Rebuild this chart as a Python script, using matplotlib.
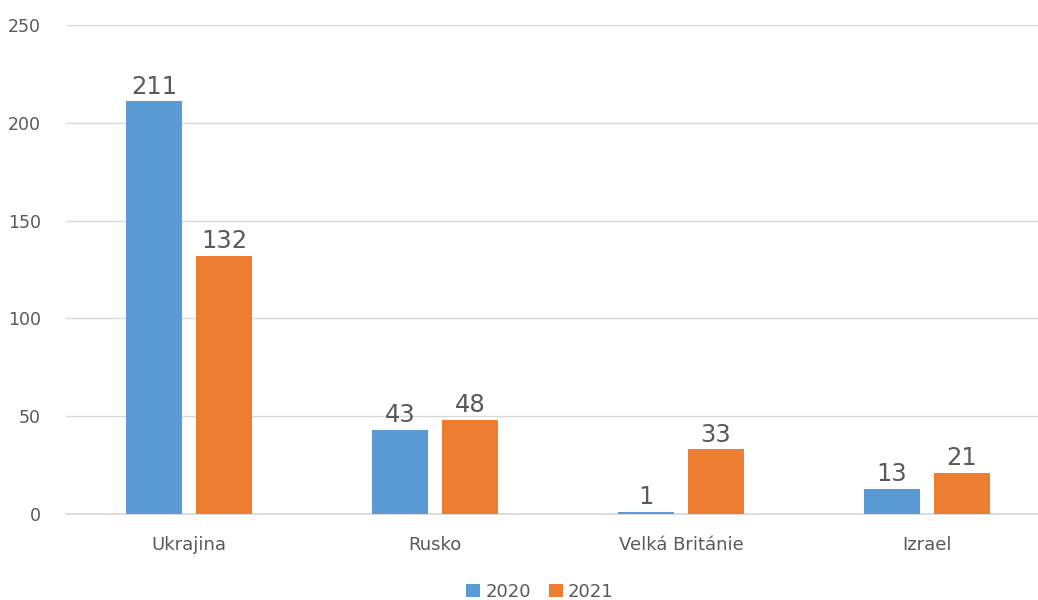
import matplotlib
matplotlib.use("Agg")
import matplotlib.pyplot as plt
import numpy as np

# data
countries = ["Ukrajina", "Rusko", "Velká Británie", "Izrael"]
years = ["2020", "2021"]
values_2020 = [211, 43, 1, 13]
values_2021 = [132, 48, 33, 21]

colors = ["#5B9BD5", "#ED7D31"]
text_grey = "#595959"

plt.rcParams['font.family'] = ['DejaVu Sans']

fig = plt.figure(figsize=(10.38, 6), dpi=100)
# plot area runs past the right edge, the original was cropped there
ax = fig.add_axes([66 / 1038, 86 / 600, (1038 - 66) / 1038, 489 / 600])

x = np.arange(len(countries))
w = 0.227
off = 0.142

for i, (vals, c, lab) in enumerate(zip([values_2020, values_2021], colors, years)):
    pos = x + (-off if i == 0 else off)
    bars = ax.bar(pos, vals, width=w, color=c, label=lab, zorder=3)
    for b, v in zip(bars, vals):
        ax.annotate(str(v), (b.get_x() + b.get_width() / 2, v),
                    xytext=(0, 2), textcoords="offset points",
                    ha="center", va="bottom", fontsize=17.5, color=text_grey)

ax.set_ylim(0, 250)
ax.set_xlim(-0.5, (1038 - 189) / 246)
ax.set_yticks(range(0, 251, 50))
ax.set_xticks(x)
ax.set_xticklabels(countries)
ax.grid(axis="y", color="#D9D9D9", linewidth=1, zorder=0)
ax.axhline(0, color="#D9D9D9", linewidth=1.2, zorder=1, clip_on=False)
for s in ax.spines.values():
    s.set_visible(False)
ax.tick_params(axis="y", length=0, pad=18, labelsize=12.5, labelcolor=text_grey)
ax.tick_params(axis="x", length=0, pad=16, labelsize=13, labelcolor=text_grey)

fig.legend(loc="lower center", bbox_to_anchor=(540 / 1038, -0.028), ncol=2,
           frameon=False, fontsize=13, handlelength=0.75, handleheight=0.75,
           handletextpad=0.3, columnspacing=1.0, labelcolor=text_grey)

fig.savefig("out.png", dpi=100)
